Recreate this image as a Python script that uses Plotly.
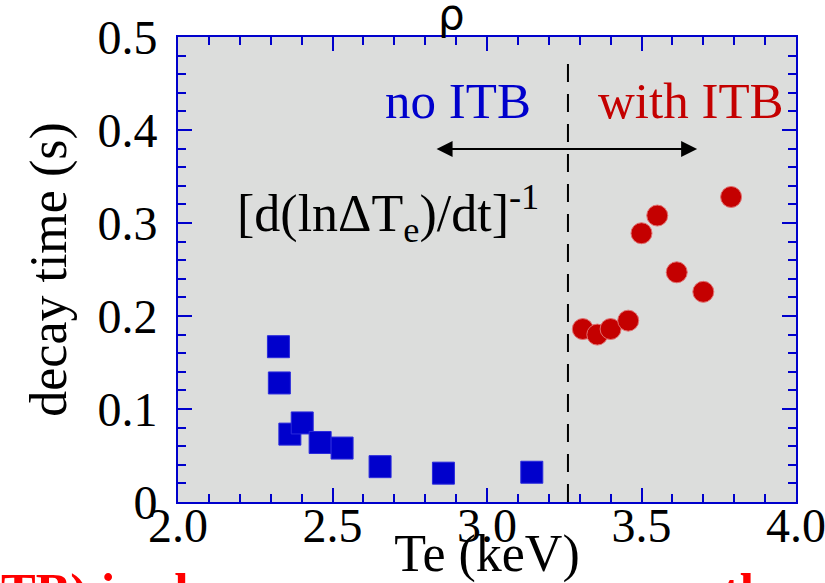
import plotly.graph_objects as go

# Data
no_itb_te = [2.325, 2.328, 2.362, 2.402, 2.46, 2.531, 2.654, 2.859, 3.145]
no_itb_tau = [0.167, 0.128, 0.073, 0.085, 0.064, 0.058, 0.038, 0.031, 0.032]
itb_te = [3.31, 3.357, 3.40, 3.457, 3.50, 3.551, 3.614, 3.70, 3.79]
itb_tau = [0.186, 0.180, 0.186, 0.195, 0.289, 0.308, 0.247, 0.226, 0.328]
x_ticks = [2.0, 2.5, 3.0, 3.5, 4.0]
x_labels = ["2.0", "2.5", "3.0", "3.5", "4.0"]
y_ticks = [0, 0.1, 0.2, 0.3, 0.4, 0.5]
y_labels = ["0", "0.1", "0.2", "0.3", "0.4", "0.5"]
boundary_te = 3.262
arrow_x = [2.832, 3.68]
arrow_y = 0.3796

SERIF = "Liberation Serif"
BLUE = "#0000cc"
RED = "#c40000"

fig = go.Figure()

fig.add_trace(go.Scatter(
    x=no_itb_te, y=no_itb_tau, mode="markers",
    marker=dict(symbol="square", size=22, color=BLUE,
                line=dict(color="#2a2adc", width=1)),
    showlegend=False, cliponaxis=False))

fig.add_trace(go.Scatter(
    x=itb_te, y=itb_tau, mode="markers",
    marker=dict(symbol="circle", size=21, color=RED,
                line=dict(color="#e07070", width=1)),
    showlegend=False, cliponaxis=False))

# dashed boundary line
fig.add_trace(go.Scatter(
    x=[boundary_te, boundary_te], y=[0, 0.48], mode="lines",
    line=dict(color="black", width=2, dash="18px,12px"),
    showlegend=False, hoverinfo="skip"))

# double-headed arrow
fig.add_annotation(
    x=arrow_x[1], y=arrow_y, ax=arrow_x[0], ay=arrow_y,
    xref="x", yref="y", axref="x", ayref="y", text="",
    showarrow=True, arrowhead=2, startarrowhead=2, arrowside="end+start",
    arrowsize=1.6, startarrowsize=1.6, arrowwidth=2, arrowcolor="black")

fig.add_annotation(x=2.905, y=0.431, xref="x", yref="y", text="no ITB",
                   showarrow=False, font=dict(family=SERIF, size=51, color=BLUE))
fig.add_annotation(x=3.66, y=0.431, xref="x", yref="y", text="with ITB",
                   showarrow=False, font=dict(family=SERIF, size=51, color=RED))
fig.add_annotation(x=2.185, y=0.31, xref="x", yref="y", xanchor="left",
                   text="[d(lnΔT<sub>e</sub>)/dt]<sup>-1</sup>",
                   showarrow=False, font=dict(family=SERIF, size=52, color="black"))

# top cropped rho
fig.add_annotation(x=0.443, y=1.0, xref="paper", yref="paper", text="ρ",
                   yanchor="bottom", yshift=-4,
                   showarrow=False, font=dict(family="DejaVu Sans", size=42, color="black"))

# bottom cropped red text
fig.add_annotation(x=-0.29, y=-0.13, xref="paper", yref="paper", xanchor="left",
                   yanchor="top", text="<b>TB) is always seen near a curve, the core region</b>",
                   showarrow=False, font=dict(family=SERIF, size=52, color="#ff0000"))

axis_common = dict(
    showline=True, linecolor=BLUE, linewidth=2, mirror="ticks",
    ticks="inside", tickcolor=BLUE, tickwidth=2, ticklen=14,
    showgrid=False, zeroline=False, automargin=False,
    ticklabeloverflow="allow",
    tickfont=dict(family=SERIF, size=48, color="black"),
)

fig.update_xaxes(
    range=[2.0, 4.0], tickvals=x_ticks, ticktext=x_labels,
    minor=dict(dtick=0.1, ticks="inside", ticklen=8, tickcolor=BLUE, tickwidth=2),
    title=dict(text="Te (keV)", font=dict(family=SERIF, size=52, color="black"), standoff=26),
    ticklabelstandoff=-20,
    **axis_common)
fig.update_yaxes(
    range=[0, 0.5], tickvals=y_ticks, ticktext=y_labels,
    minor=dict(dtick=0.02, ticks="inside", ticklen=8, tickcolor=BLUE, tickwidth=2),
    title=dict(text="decay time (s)", font=dict(family=SERIF, size=52, color="black"), standoff=14),
    ticklabelstandoff=9,
    **axis_common)

fig.update_layout(
    width=825, height=583,
    margin=dict(l=178, r=29, t=37, b=81),
    plot_bgcolor="#dcdddc", paper_bgcolor="white",
    showlegend=False,
)

fig.write_html("out.html")
